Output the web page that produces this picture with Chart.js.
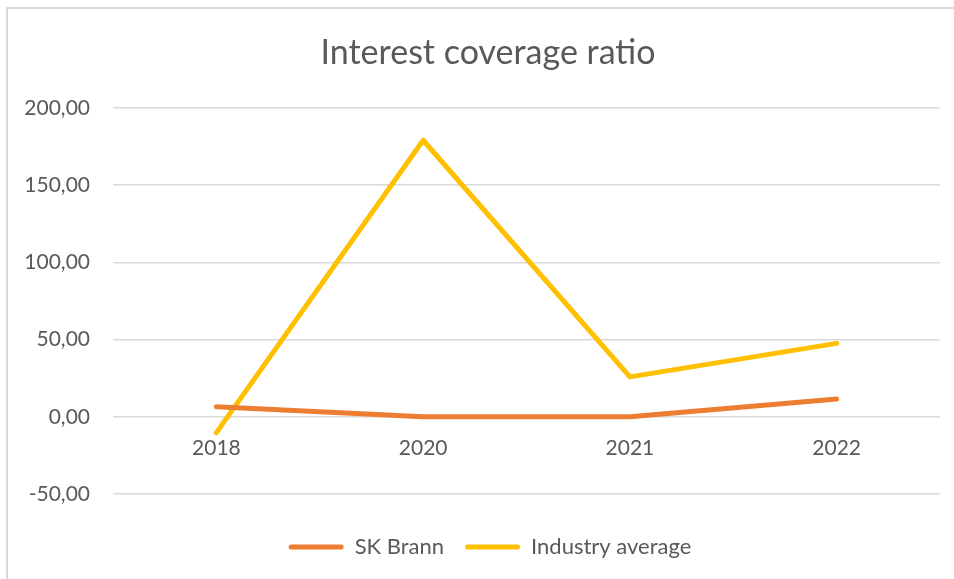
<!DOCTYPE html>
<html>
<head>
<meta charset="utf-8">
<script src="https://cdn.jsdelivr.net/npm/chart.js@4/dist/chart.umd.min.js"></script>
<style>
  html, body { margin: 0; padding: 0; background: #fff; overflow: hidden; }
  #frame { position: absolute; left: 6px; top: 7px; width: 1000px; height: 700px;
           border-top: 2px solid #d9d9d9; border-left: 2px solid #d9d9d9; }
  #wrap { position: absolute; left: 0; top: 0; width: 954px; height: 579px; }
</style>
</head>
<body>
<div id="frame"></div>
<div id="wrap"><canvas id="chart1"></canvas></div>
<script>
// data
var years = ['2018', '2020', '2021', '2022'];
var skBrann = [6.5, 0, 0, 11.5];
var industryAvg = [-10.3, 179, 25.8, 47.5];
var seriesNames = ['SK Brann', 'Industry average'];
var yTicks = [-50, 0, 50, 100, 150, 200];

var textGrey = '#595959';
var gridGrey = '#d9d9d9';

// excel style numbers: 200,00
function fmt(v) {
  return v.toFixed(2).replace('.', ',');
}

//excel centres title and legend a bit to the right, nudge them over
var boxShift = {
  id: 'boxShift',
  afterLayout: function(chart) {
    chart.legend.left += 20;
    chart.legend.right += 20;
    chart.titleBlock.left += 18;
    chart.titleBlock.right += 18;
  }
};

drawChart(document.getElementById('chart1'));

function drawChart(canvas) {
  //build the two line datasets
  var data = {
    labels: years,
    datasets: [
      makeLine(seriesNames[0], skBrann, '#ed7d31'),
      makeLine(seriesNames[1], industryAvg, '#ffc000')
    ]
  };

  var options = {
    responsive: true,
    maintainAspectRatio: false,
    animation: false,
    layout: { padding: { left: 0, right: 14, top: 0, bottom: 11 } },
    plugins: {
      title: {
        display: true,
        text: 'Interest coverage ratio',
        color: textGrey,
        font: { family: 'Lato', size: 34, weight: 'normal' },
        padding: { top: 33, bottom: 34 }
      },
      legend: {
        position: 'bottom',
        labels: {
          color: textGrey,
          font: { family: 'Lato', size: 22 },
          boxWidth: 55,
          boxHeight: 5,
          useBorderRadius: true,
          borderRadius: 2.5,
          padding: 21,
          //flat line sample, no outline
          generateLabels: function(chart) {
            var items = Chart.defaults.plugins.legend.labels.generateLabels(chart);
            items.forEach(function(it) { it.lineWidth = 0; });
            return items;
          }
        }
      },
      tooltip: { enabled: false }
    },
    scales: {
      x: {
        type: 'category',
        position: { y: 0 },   //labels sit under the zero line
        offset: true,
        grid: { display: false, drawTicks: false },
        border: { display: false },
        ticks: { color: textGrey, font: { family: 'Lato', size: 21 }, padding: 19 }
      },
      //empty axis only used as a gap between plot and legend
      gap: {
        type: 'category',
        position: 'bottom',
        grid: { display: false, drawTicks: false },
        border: { display: false },
        ticks: { display: false },
        afterFit: function(scale) { scale.height = 21; }
      },
      y: {
        min: yTicks[0],
        max: yTicks[yTicks.length - 1],
        afterBuildTicks: function(scale) {
          scale.ticks = yTicks.map(function(v) { return { value: v }; });
        },
        afterFit: function(scale) { scale.width = 113; },
        grid: { color: gridGrey, lineWidth: 1.5, drawTicks: false },
        border: { display: false },
        ticks: {
          color: textGrey,
          font: { family: 'Lato', size: 21 },
          padding: 23,
          callback: function(v) { return fmt(v); }
        }
      }
    }
  };

  new Chart(canvas, { type: 'line', data: data, options: options, plugins: [boxShift] });
}

function makeLine(name, values, color) {
  return {
    label: name,
    data: values,
    borderColor: color,
    backgroundColor: color,
    borderWidth: 5,
    borderCapStyle: 'round',
    borderJoinStyle: 'round',
    pointRadius: 0,
    tension: 0,
    clip: false
  };
}
</script>
</body>
</html>
